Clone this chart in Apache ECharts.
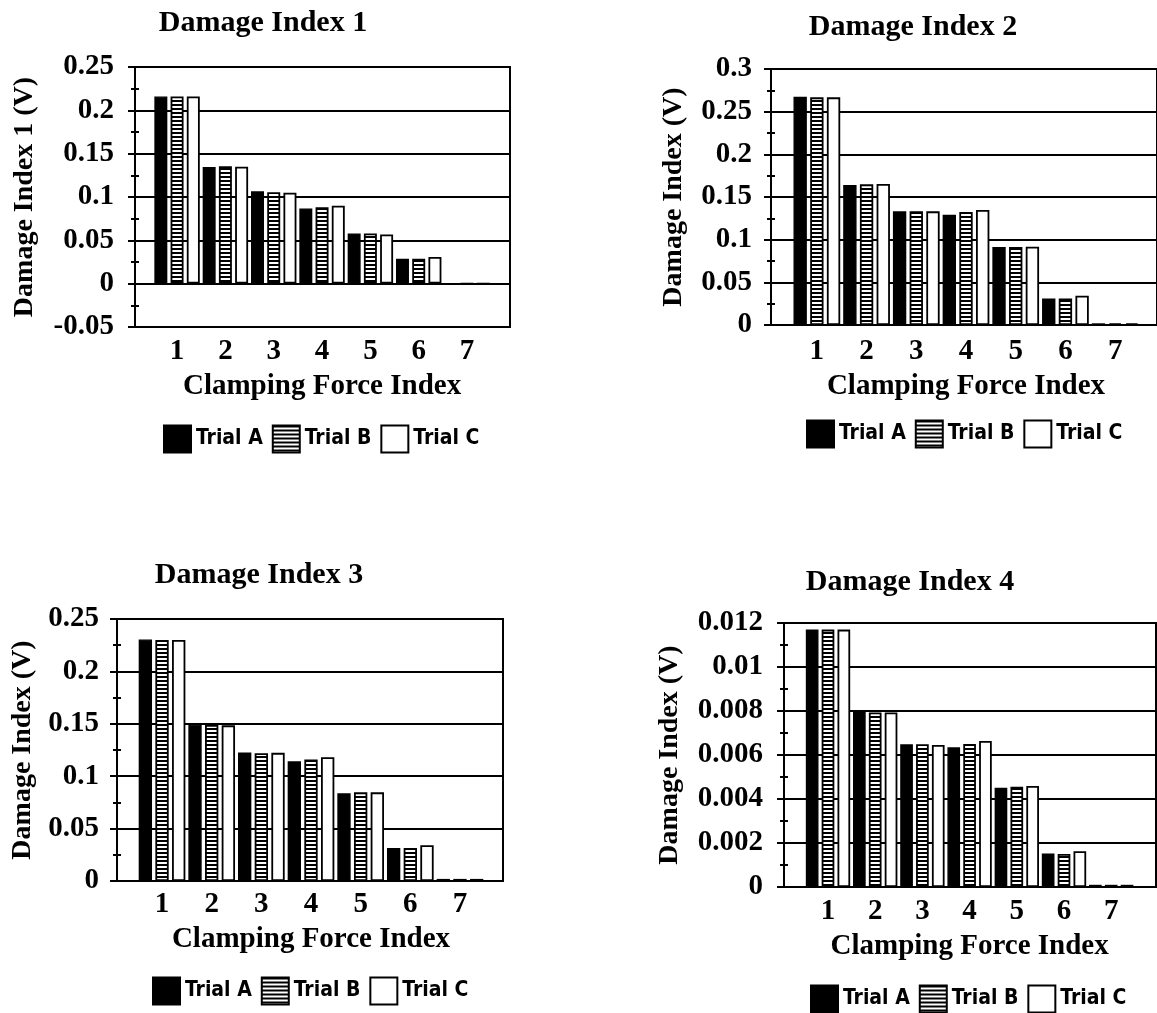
<!DOCTYPE html>
<html>
<head>
<meta charset="utf-8">
<script src="https://cdn.jsdelivr.net/npm/echarts@6/dist/echarts.min.js"></script>
<style>
html,body{margin:0;padding:0;background:#fff;}
#c{width:1157px;height:1013px;}
</style>
</head>
<body>
<div id="c"></div>
<script>
// ---- data ----
const categories = ['1', '2', '3', '4', '5', '6', '7'];
const seriesNames = ['Trial A', 'Trial B', 'Trial C'];
const chartTitles = ['Damage Index 1', 'Damage Index 2', 'Damage Index 3', 'Damage Index 4'];
const yTitles = ['Damage Index 1 (V)', 'Damage Index (V)', 'Damage Index (V)', 'Damage Index (V)'];
const xTitle = 'Clamping Force Index';

const di1TrialA = [0.216, 0.1347, 0.1067, 0.0868, 0.058, 0.0288, 0];
const di1TrialB = [0.216, 0.1355, 0.1056, 0.0883, 0.058, 0.0288, 0];
const di1TrialC = [0.216, 0.135, 0.105, 0.090, 0.0568, 0.0307, 0];

const di2TrialA = [0.2676, 0.164, 0.1332, 0.1293, 0.0914, 0.0312, 0.002];
const di2TrialB = [0.2668, 0.1648, 0.1332, 0.1324, 0.0914, 0.031, 0.002];
const di2TrialC = [0.2668, 0.1652, 0.1332, 0.1348, 0.0918, 0.0344, 0.002];

const di3TrialA = [0.2305, 0.1494, 0.1226, 0.1143, 0.0837, 0.0316, 0.002];
const di3TrialB = [0.2300, 0.1488, 0.1220, 0.1159, 0.0846, 0.0316, 0.002];
const di3TrialC = [0.2299, 0.1485, 0.1223, 0.1181, 0.0846, 0.0342, 0.002];

const di4TrialA = [0.0117, 0.00796, 0.00649, 0.00635, 0.00451, 0.00152, 0.0001];
const di4TrialB = [0.0117, 0.00793, 0.00649, 0.0065, 0.00456, 0.0015, 0.0001];
const di4TrialC = [0.0117, 0.00793, 0.00646, 0.00664, 0.00459, 0.00163, 0.0001];

// y-axis scales (tick labels are generated from these)
const yMins = [-0.05, 0, 0, 0];
const yMaxs = [0.25, 0.3, 0.25, 0.012];
const yIntervals = [0.05, 0.05, 0.05, 0.002];

const allData = [
  [di1TrialA, di1TrialB, di1TrialC],
  [di2TrialA, di2TrialB, di2TrialC],
  [di3TrialA, di3TrialB, di3TrialC],
  [di4TrialA, di4TrialB, di4TrialC]
];

// ---- layout (pixels) ----
const layouts = [
  {fl:135, ft:67, fw:375, fh:260, bl:152.9, bw:338.3, lblM:21, yGap:110, catM:25, xGap:60, tx:263, ty:23, lgL:163, lgT:424.5},
  {fl:771, ft:69, fw:392, fh:256, bl:792, bw:348, lblM:19, yGap:97, catM:27, xGap:62, tx:913, ty:27, lgL:806, lgT:419.5},
  {fl:117, ft:619, fw:386, fh:262, bl:137.2, bw:347.6, lblM:18, yGap:94, catM:24, xGap:59, tx:259, ty:575, lgL:152, lgT:976.5},
  {fl:784, ft:623, fw:372, fh:264, bl:804.4, bw:330.4, lblM:21, yGap:114, catM:25, xGap:60, tx:910, ty:582, lgL:810, lgT:984.5}
];

// ---- fonts ----
const serif = '"Liberation Serif", "Times New Roman", serif';
function fontAvailable(name) {
  const c = document.createElement('canvas').getContext('2d');
  c.font = 'bold 40px monospace';
  const w1 = c.measureText('Trial ABC mmwi').width;
  c.font = 'bold 40px "' + name + '", monospace';
  const w2 = c.measureText('Trial ABC mmwi').width;
  return Math.abs(w1 - w2) > 0.5;
}
let legendFont = '"Liberation Sans Narrow"';
let legendSize = 26;
if (!fontAvailable('Liberation Sans Narrow')) {
  if (fontAvailable('DejaVu Sans Condensed')) { legendFont = '"DejaVu Sans Condensed"'; legendSize = 21; }
  else { legendFont = '"Liberation Sans", Arial, sans-serif'; legendSize = 21; }
}

// ---- hatch pattern for Trial B ----
const hatch = document.createElement('canvas');
hatch.width = 4; hatch.height = 4;
const hctx = hatch.getContext('2d');
hctx.fillStyle = '#fff'; hctx.fillRect(0, 0, 4, 4);
hctx.fillStyle = '#000'; hctx.fillRect(0, 0, 4, 2);

const itemStyles = [
  {color: '#000', borderColor: '#000', borderWidth: 1.4},
  {color: {image: hatch, repeat: 'repeat'}, borderColor: '#000', borderWidth: 1.8},
  {color: '#fff', borderColor: '#000', borderWidth: 1.8}
];

const fmt = v => String(parseFloat(Number(v).toFixed(6)));
const FS = 29;
const LW = 2;

const grids = [], xAxes = [], yAxes = [], series = [], legends = [], graphics = [];

layouts.forEach((L, i) => {
  // frame grid
  grids.push({left: L.fl, top: L.ft, width: L.fw, height: L.fh, show: true,
    borderColor: '#000', borderWidth: LW, backgroundColor: 'transparent', containLabel: false});
  // bar grid
  grids.push({left: L.bl, top: L.ft, width: L.bw, height: L.fh, containLabel: false});

  xAxes.push({gridIndex: 2 * i, type: 'value', show: false, min: 0, max: 1});
  xAxes.push({gridIndex: 2 * i + 1, type: 'category', data: categories,
    axisLine: {show: false}, axisTick: {show: false}, splitLine: {show: false},
    axisLabel: {margin: L.catM, verticalAlign: 'middle', color: '#000',
      fontFamily: serif, fontWeight: 'bold', fontSize: FS},
    name: xTitle, nameLocation: 'middle', nameGap: L.xGap,
    nameTextStyle: {color: '#000', fontFamily: serif, fontWeight: 'bold', fontSize: FS, verticalAlign: 'middle'}
  });

  const yCommon = {min: yMins[i], max: yMaxs[i], interval: yIntervals[i]};
  yAxes.push(Object.assign({gridIndex: 2 * i, type: 'value', position: 'left',
    axisLine: {show: true, lineStyle: {color: '#000', width: LW}},
    axisTick: {show: true, length: 7, lineStyle: {color: '#000', width: LW}},
    minorTick: {show: true, splitNumber: 2, length: 4, lineStyle: {color: '#000', width: LW}},
    splitLine: {show: true, lineStyle: {color: '#000', width: LW}},
    axisLabel: {margin: L.lblM, color: '#000', fontFamily: serif, fontWeight: 'bold', fontSize: FS, formatter: fmt},
    name: yTitles[i], nameLocation: 'middle', nameGap: L.yGap,
    nameTextStyle: {color: '#000', fontFamily: serif, fontWeight: 'bold', fontSize: 28, verticalAlign: 'middle'}
  }, yCommon));
  yAxes.push(Object.assign({gridIndex: 2 * i, type: 'value', position: 'left',
    axisLine: {show: false}, axisLabel: {show: false}, splitLine: {show: false},
    axisTick: {show: false, inside: true},
    minorTick: {show: true, splitNumber: 2, length: 4, lineStyle: {color: '#000', width: LW}}
  }, yCommon));
  yAxes.push(Object.assign({gridIndex: 2 * i + 1, type: 'value', show: false}, yCommon));

  allData[i].forEach((vals, s) => {
    series.push({
      type: 'bar', name: seriesNames[s], data: vals,
      xAxisIndex: 2 * i + 1, yAxisIndex: 3 * i + 2,
      barCategoryGap: '6%', barGap: '25%',
      itemStyle: itemStyles[s], emphasis: {disabled: true}, animation: false
    });
  });

  legends.push({left: L.lgL, top: L.lgT, orient: 'horizontal', padding: 0,
    itemWidth: 27, itemHeight: 27, itemGap: 9, icon: 'rect', selectedMode: false,
    data: seriesNames,
    textStyle: {color: '#000', fontFamily: legendFont, fontWeight: 'bold', fontSize: legendSize}
  });

  graphics.push({type: 'text', x: L.tx, y: L.ty,
    style: {text: chartTitles[i], fill: '#000', font: 'bold 30px ' + serif, align: 'center', verticalAlign: 'middle'}});
});

const chart = echarts.init(document.getElementById('c'));
chart.setOption({
  animation: false,
  backgroundColor: '#fff',
  grid: grids, xAxis: xAxes, yAxis: yAxes, series: series, legend: legends, graphic: graphics
});
</script>
</body>
</html>
